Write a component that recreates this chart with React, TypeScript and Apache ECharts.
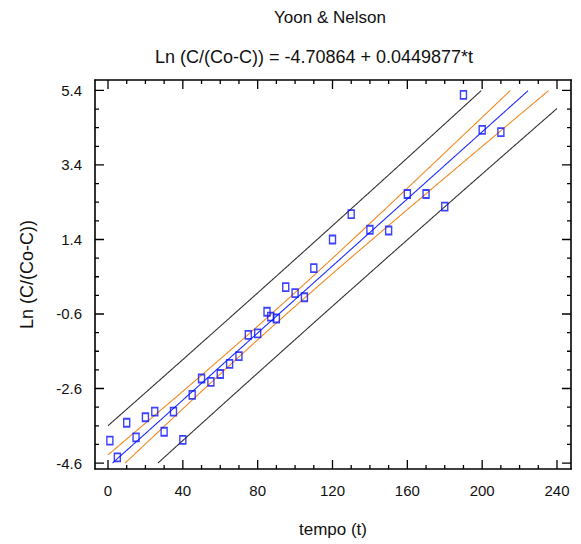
import React, { useEffect, useRef } from "react";
import * as echarts from "echarts";

// observed data: tempo (t) and Ln(C/(Co-C))
const tempo = [1, 5, 10, 15, 20, 25, 30, 35, 40, 45, 50, 55, 60, 65, 70, 75, 80, 85, 87, 90, 95, 100, 105, 110, 120, 130, 140, 150, 160, 170, 180, 190, 200, 210];
const lnRatio = [-4.0, -4.45, -3.52, -3.91, -3.37, -3.22, -3.76, -3.22, -3.98, -2.77, -2.33, -2.42, -2.21, -1.94, -1.73, -1.16, -1.12, -0.54, -0.67, -0.72, 0.12, -0.04, -0.15, 0.63, 1.4, 2.08, 1.66, 1.64, 2.62, 2.62, 2.28, 5.28, 4.34, 4.28];

// fitted model from the title
const INTERCEPT = -4.70864;
const SLOPE = 0.0449877;
const T_CRIT = 2.037; // 95%, n-2 df

// axis ticks / labels
const xTicks = [0, 40, 80, 120, 160, 200, 240];
const yTicks = [-4.6, -2.6, -0.6, 1.4, 3.4, 5.4];
const MINOR_SPLIT = 4;

// plotted range of the frame (slightly wider than the tick range)
const X_LO = -6.95;
const X_HI = 247.48;
const Y_LO = -4.76;
const Y_HI = 5.68;

const GRID = { left: 95, top: 80, width: 476, height: 389 };
const FONT = "'Liberation Sans', Arial, sans-serif";
const MAJOR_LEN = 9;
const MINOR_LEN = 4;

function stats() {
  const n = tempo.length;
  const tbar = tempo.reduce((a, b) => a + b, 0) / n;
  const sxx = tempo.reduce((a, t) => a + (t - tbar) * (t - tbar), 0);
  const sse = tempo.reduce((a, t, i) => {
    const r = lnRatio[i] - (INTERCEPT + SLOPE * t);
    return a + r * r;
  }, 0);
  const s = Math.sqrt(sse / (n - 2));
  return { n, tbar, sxx, s };
}

function curve(f: (t: number) => number) {
  const lo = yTicks[0];
  const hi = yTicks[yTicks.length - 1];
  const t0 = xTicks[0];
  const t1 = xTicks[xTicks.length - 1];
  const pts: number[][] = [];
  const step = 0.5;
  let prevT = t0;
  let prevY = f(t0);
  const inside = (y: number) => y >= lo && y <= hi;
  if (inside(prevY)) pts.push([prevT, prevY]);
  for (let t = t0 + step; t <= t1 + 1e-9; t += step) {
    const y = f(t);
    const a = inside(prevY);
    const b = inside(y);
    if (a !== b) {
      const edge = b ? (prevY < lo ? lo : hi) : y < lo ? lo : hi;
      const tc = prevT + ((edge - prevY) / (y - prevY)) * (t - prevT);
      pts.push([tc, edge]);
    }
    if (b) pts.push([t, y]);
    prevT = t;
    prevY = y;
  }
  return pts;
}

function minorOf(major: number[]) {
  const out: number[] = [];
  for (let i = 0; i < major.length - 1; i++) {
    const d = (major[i + 1] - major[i]) / MINOR_SPLIT;
    for (let k = 1; k < MINOR_SPLIT; k++) out.push(major[i] + d * k);
  }
  return out;
}

function App() {
  const ref = useRef<HTMLDivElement>(null);
  useEffect(() => {
    document.body.style.margin = "0";
    const chart = echarts.init(ref.current as HTMLDivElement, null, { renderer: "svg" });
    const { n, tbar, sxx, s } = stats();
    const fit = (t: number) => INTERCEPT + SLOPE * t;
    const ci = (t: number) => T_CRIT * s * Math.sqrt(1 / n + ((t - tbar) * (t - tbar)) / sxx);
    const pi = (t: number) => T_CRIT * s * Math.sqrt(1 + 1 / n + ((t - tbar) * (t - tbar)) / sxx);

    const lineSeries = (data: number[][], color: string, width: number, z = 2) => ({
      type: "line",
      data,
      showSymbol: false,
      symbol: "none",
      lineStyle: { color, width },
      silent: true,
      z,
    });

    // tick marks drawn inward from the frame, as short segments in axis units
    const xUnit = (X_HI - X_LO) / GRID.width;
    const yUnit = (Y_HI - Y_LO) / GRID.height;
    const tickSeries: any[] = [];
    const addX = (vals: number[], len: number) => {
      vals.forEach((v) => {
        tickSeries.push(lineSeries([[v, Y_LO], [v, Y_LO + len * yUnit]], "#000", 1.3, 5));
        tickSeries.push(lineSeries([[v, Y_HI], [v, Y_HI - len * yUnit]], "#000", 1.3, 5));
      });
    };
    const addY = (vals: number[], len: number) => {
      vals.forEach((v) => {
        tickSeries.push(lineSeries([[X_LO, v], [X_LO + len * xUnit, v]], "#000", 1.3, 5));
        tickSeries.push(lineSeries([[X_HI, v], [X_HI - len * xUnit, v]], "#000", 1.3, 5));
      });
    };
    addX(xTicks, MAJOR_LEN);
    addX(minorOf(xTicks), MINOR_LEN);
    addY(yTicks, MAJOR_LEN);
    addY(minorOf(yTicks), MINOR_LEN);

    const frameLine = { show: true, onZero: false, lineStyle: { color: "#000", width: 1.6 } };
    const xAx = (pos: string, labels: boolean) => ({
      type: "value",
      position: pos,
      min: X_LO,
      max: X_HI,
      axisLine: frameLine,
      splitLine: { show: false },
      axisTick: { show: false },
      axisLabel: labels
        ? { show: true, customValues: xTicks, margin: 14, color: "#111", fontSize: 15, fontFamily: FONT }
        : { show: false },
      name: labels ? "tempo (t)" : "",
      nameLocation: "middle",
      nameGap: 52,
      nameTextStyle: { color: "#111", fontSize: 17, fontFamily: FONT },
    });
    const yAx = (pos: string, labels: boolean) => ({
      type: "value",
      position: pos,
      min: Y_LO,
      max: Y_HI,
      axisLine: frameLine,
      splitLine: { show: false },
      axisTick: { show: false },
      axisLabel: labels
        ? { show: true, customValues: yTicks, margin: 13, color: "#111", fontSize: 15, fontFamily: FONT, formatter: (v: number) => v.toFixed(1) }
        : { show: false },
      name: labels ? "Ln (C/(Co-C))" : "",
      nameLocation: "middle",
      nameGap: 59,
      nameTextStyle: { color: "#111", fontSize: 18, fontFamily: FONT },
    });

    chart.setOption({
      animation: false,
      grid: { ...GRID, show: false },
      xAxis: [xAx("bottom", true), xAx("top", false)],
      yAxis: [yAx("left", true), yAx("right", false)],
      graphic: [
        { type: "text", x: 330, y: 17, style: { text: "Yoon & Nelson", fill: "#111", font: `17px ${FONT}`, textAlign: "center", textVerticalAlign: "middle" } },
        { type: "text", x: 314, y: 57, style: { text: "Ln (C/(Co-C)) = -4.70864 + 0.0449877*t", fill: "#111", font: `18px ${FONT}`, textAlign: "center", textVerticalAlign: "middle" } },
      ],
      series: [
        lineSeries(curve((t) => fit(t) + pi(t)), "#333", 1.1),
        lineSeries(curve((t) => fit(t) - pi(t)), "#333", 1.1),
        lineSeries(curve((t) => fit(t) + ci(t)), "#f08a24", 1.1),
        lineSeries(curve((t) => fit(t) - ci(t)), "#f08a24", 1.1),
        lineSeries(curve(fit), "#1f2cff", 1.1),
        {
          type: "scatter",
          data: tempo.map((t, i) => [t, lnRatio[i]]),
          symbol: "rect",
          symbolSize: [6, 8],
          itemStyle: { color: "rgba(0,0,0,0)", borderColor: "#0a14ff", borderWidth: 1.6 },
          z: 3,
        },
        ...tickSeries,
      ],
    });
    return () => chart.dispose();
  }, []);
  return <div ref={ref} style={{ width: 581, height: 544 }} />;
}

export default App;
